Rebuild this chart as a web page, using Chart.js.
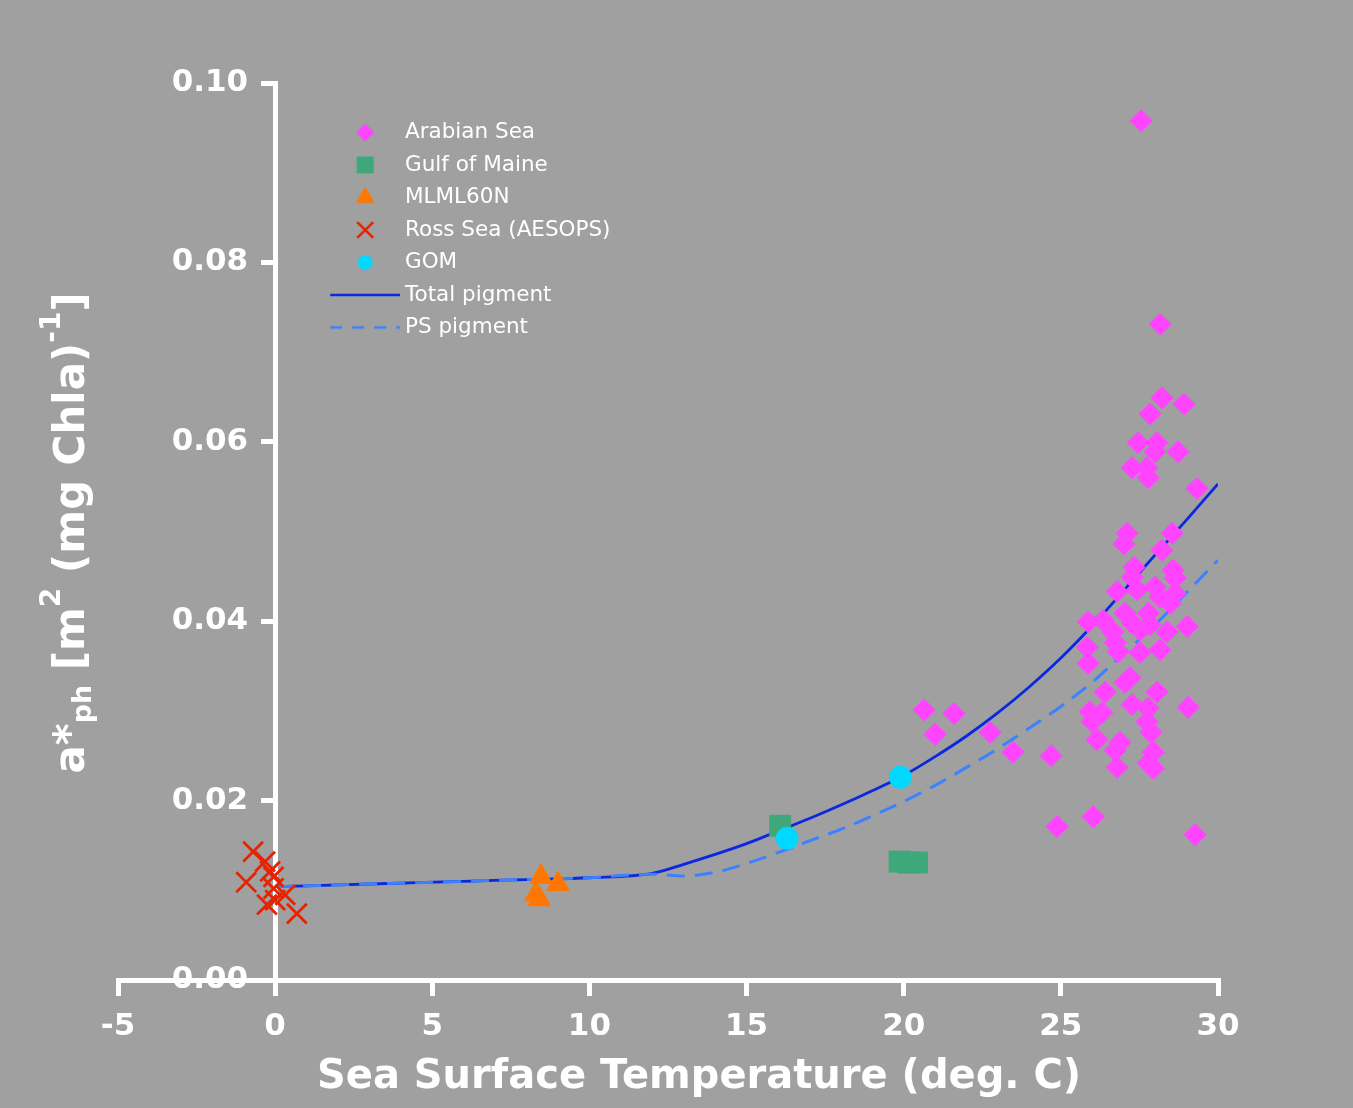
<!DOCTYPE html>
<html>
<head>
<meta charset="utf-8">
<script src="https://cdn.jsdelivr.net/npm/chart.js@4.4.1/dist/chart.umd.min.js"></script>
<style>
  html, body { margin: 0; padding: 0; background: #a0a0a0; }
  #wrap { width: 1353px; height: 1108px; }
</style>
</head>
<body>
<div id="wrap"><canvas id="chart" width="1353" height="1108"></canvas></div>
<script>
const FONT = "'DejaVu Sans', Verdana, sans-serif";

// tick labels
const xTicks = [-5, 0, 5, 10, 15, 20, 25, 30];
const yTicks = [0, 0.02, 0.04, 0.06, 0.08, 0.10];

// Arabian Sea (diamonds)
const arabianT = [27.55, 28.16, 28.22, 27.84, 28.92, 27.46, 28.06, 28.00, 28.73, 27.27, 27.74, 27.78, 29.33,
  27.11, 27.01, 28.54, 28.22, 27.33, 28.57, 28.64, 27.27, 26.79, 27.43, 28.00, 28.16, 28.64, 28.48,
  25.87, 26.34, 27.04, 27.27, 27.78, 27.84, 26.66, 27.52, 28.38, 29.02, 25.84, 25.87, 26.73, 26.82,
  27.52, 28.16, 27.20, 27.04, 26.41, 28.06, 25.93, 26.31, 25.99, 27.27, 27.78, 29.05, 27.74, 27.87,
  26.15, 26.89, 26.73, 27.94, 26.79, 27.78, 27.94, 26.03, 24.88, 29.27,
  20.65, 21.60, 21.00, 22.75, 23.48, 24.69];
const arabianA = [0.0958, 0.0731, 0.0649, 0.0631, 0.0642, 0.0599, 0.0599, 0.0589, 0.0589, 0.0571, 0.0571, 0.0560, 0.0548,
  0.0498, 0.0486, 0.0498, 0.0479, 0.0460, 0.0457, 0.0448, 0.0449, 0.0433, 0.0435, 0.0438, 0.0427, 0.0431, 0.0420,
  0.0399, 0.0401, 0.0409, 0.0398, 0.0409, 0.0396, 0.0388, 0.0390, 0.0388, 0.0394, 0.0371, 0.0353, 0.0376, 0.0366,
  0.0365, 0.0368, 0.0337, 0.0332, 0.0321, 0.0321, 0.0299, 0.0298, 0.0288, 0.0307, 0.0303, 0.0304, 0.0288, 0.0276,
  0.0268, 0.0265, 0.0256, 0.0254, 0.0237, 0.0242, 0.0236, 0.0182, 0.0171, 0.0162,
  0.0301, 0.0297, 0.0274, 0.0276, 0.0254, 0.0250];

// Gulf of Maine (squares)
const gulfT = [16.07, 19.87, 20.15, 20.42];
const gulfA = [0.0172, 0.0132, 0.0131, 0.0131];

// MLML60N (triangles)
const mlmlT = [8.46, 9.00, 8.30, 8.40];
const mlmlA = [0.0115, 0.0107, 0.0096, 0.0090];

// Ross Sea (AESOPS) (crosses)
const rossT = [-0.70, -0.92, -0.32, -0.05, -0.05, 0.32, -0.26, 0.00, 0.69, -0.16];
const rossA = [0.0143, 0.0109, 0.0132, 0.0115, 0.0102, 0.0095, 0.0084, 0.0089, 0.0074, 0.0121];

// GOM (circles)
const gomT = [16.29, 19.89];
const gomA = [0.0158, 0.0226];

// model curves
const curveT = [0, 2, 4, 6, 8, 10, 12, 13, 14, 15, 16, 17, 18, 19, 20, 21, 22, 23, 24, 25, 26, 27, 28, 29, 30];
const totalPigment = [0.0104, 0.0106, 0.0108, 0.0110, 0.0112, 0.0114, 0.0119, 0.0129, 0.0140, 0.0152, 0.0166, 0.0180,
  0.0195, 0.0211, 0.0228, 0.0249, 0.0272, 0.0298, 0.0327, 0.0359, 0.0395, 0.0434, 0.0474, 0.0513, 0.0553];
const psPigment = [0.0104, 0.0106, 0.0108, 0.0110, 0.0112, 0.0114, 0.0118, 0.0116, 0.0120, 0.0130, 0.0142, 0.0155,
  0.0168, 0.0183, 0.0199, 0.0217, 0.0237, 0.0258, 0.0281, 0.0305, 0.0332, 0.0364, 0.0396, 0.0432, 0.0468];

const xTitle = 'Sea Surface Temperature (deg. C)';
const yTitleParts = [
  { text: 'a*', size: 42, shift: 0 },
  { text: 'ph', size: 27, shift: 7 },
  { text: ' [m', size: 42, shift: 0 },
  { text: '2', size: 28, shift: -24 },
  { text: ' (mg Chla)', size: 42, shift: 0 },
  { text: '-1', size: 28, shift: -24 },
  { text: ']', size: 42, shift: 0 }
];

function pairs(xs, ys) {
  return xs.map((x, i) => ({ x: x, y: ys[i] }));
}

// legend symbols, drawn with Chart's own point helper onto small canvases
function makeSymbol(style, radius, color, lineDash) {
  const c = document.createElement('canvas');
  c.width = 76;
  c.height = 30;
  const g = c.getContext('2d');
  g.fillStyle = color;
  g.strokeStyle = color;
  if (style === 'line') {
    g.lineWidth = 2.5;
    g.setLineDash(lineDash || []);
    g.beginPath();
    g.moveTo(6, 15);
    g.lineTo(76, 15);
    g.stroke();
  } else {
    g.lineWidth = style === 'crossRot' ? 2.5 : 1;
    Chart.helpers.drawPoint(g, { pointStyle: style, radius: radius, rotation: 0, borderWidth: g.lineWidth }, 41, 15);
  }
  return c;
}

const legendSymbols = [
  makeSymbol('rectRot', 8.5, '#ff44ff'),
  makeSymbol('rect', 11.3, '#3ea87a'),
  makeSymbol('triangle', 10, '#ff7700'),
  makeSymbol('crossRot', 11.3, '#e62200'),
  makeSymbol('circle', 7, '#00d8ff'),
  makeSymbol('line', 0, '#0a28e0'),
  makeSymbol('line', 0, '#3c82ff', [12, 10])
];

const placeLegend = {
  id: 'placeLegend',
  afterLayout(chart) {
    const lg = chart.legend;
    lg.left = 319.25;
    lg.top = 110.75;
    lg.right = lg.left + 320;
    lg.bottom = lg.top + 400;
  }
};

const axisTitles = {
  id: 'axisTitles',
  afterDraw(chart) {
    const ctx = chart.ctx;
    ctx.save();
    ctx.fillStyle = '#ffffff';
    ctx.textBaseline = 'alphabetic';
    ctx.font = 'bold 40px ' + FONT;
    ctx.textAlign = 'center';
    ctx.fillText(xTitle, 699, 1088);

    ctx.textAlign = 'left';
    ctx.translate(84, 533);
    ctx.rotate(-Math.PI / 2);
    let total = 0;
    yTitleParts.forEach(p => {
      ctx.font = 'bold ' + p.size + 'px ' + FONT;
      p.w = ctx.measureText(p.text).width;
      total += p.w;
    });
    let x = -total / 2;
    yTitleParts.forEach(p => {
      ctx.font = 'bold ' + p.size + 'px ' + FONT;
      ctx.fillText(p.text, x, p.shift);
      x += p.w;
    });
    ctx.restore();
  }
};

const tickFont = { family: FONT, size: 31, weight: 'bold' };

new Chart(document.getElementById('chart'), {
  type: 'scatter',
  data: {
    datasets: [
      { label: 'Arabian Sea', data: pairs(arabianT, arabianA), order: 0,
        pointStyle: 'rectRot', pointRadius: 11, backgroundColor: '#ff44ff', borderColor: '#ff44ff', borderWidth: 1 },
      { label: 'Gulf of Maine', data: pairs(gulfT, gulfA), order: 2,
        pointStyle: 'rect', pointRadius: 14.8, backgroundColor: '#3ea87a', borderColor: '#3ea87a', borderWidth: 1 },
      { label: 'MLML60N', data: pairs(mlmlT, mlmlA), order: 3,
        pointStyle: 'triangle', pointRadius: 13, backgroundColor: '#ff7700', borderColor: '#ff7700', borderWidth: 1 },
      { label: 'Ross Sea (AESOPS)', data: pairs(rossT, rossA), order: 4,
        pointStyle: 'crossRot', pointRadius: 14, backgroundColor: '#e62200', borderColor: '#e62200', borderWidth: 2.8 },
      { label: 'GOM', data: pairs(gomT, gomA), order: 1,
        pointStyle: 'circle', pointRadius: 11, backgroundColor: '#00d8ff', borderColor: '#00d8ff', borderWidth: 1 },
      { label: 'Total pigment', data: pairs(curveT, totalPigment), order: 6, showLine: true,
        pointRadius: 0, borderColor: '#0a28e0', borderWidth: 2.8, cubicInterpolationMode: 'monotone' },
      { label: 'PS pigment', data: pairs(curveT, psPigment), order: 5, showLine: true,
        pointRadius: 0, borderColor: '#3c82ff', borderWidth: 3, borderDash: [18, 10], cubicInterpolationMode: 'monotone' }
    ]
  },
  options: {
    responsive: false,
    devicePixelRatio: 1,
    animation: false,
    events: [],
    layout: { padding: { left: 118, right: 135, top: 83, bottom: 128 } },
    scales: {
      x: {
        type: 'linear',
        min: -5,
        max: 30,
        position: { y: 0 },
        afterBuildTicks: s => { s.ticks = xTicks.map(v => ({ value: v })); },
        grid: { drawOnChartArea: false, drawTicks: true, tickLength: 13, color: '#ffffff', lineWidth: 5 },
        border: { display: true, color: '#ffffff', width: 5 },
        ticks: { color: '#ffffff', font: tickFont, padding: 15, maxRotation: 0 }
      },
      y: {
        type: 'linear',
        min: 0,
        max: 0.10,
        position: { x: 0 },
        afterBuildTicks: s => { s.ticks = yTicks.map(v => ({ value: v })); },
        grid: { drawOnChartArea: false, drawTicks: true, tickLength: 12, color: '#ffffff', lineWidth: 5 },
        border: { display: true, color: '#ffffff', width: 5 },
        ticks: { display: false }
      },
      // carries the y tick labels, set just left of the y axis tick marks
      yLabels: {
        type: 'linear',
        axis: 'y',
        min: 0,
        max: 0.10,
        position: { x: -0.86 },
        afterBuildTicks: s => { s.ticks = yTicks.map(v => ({ value: v })); },
        grid: { display: false },
        border: { display: false },
        ticks: { color: '#ffffff', font: tickFont, padding: 0, callback: v => v.toFixed(2) }
      }
    },
    plugins: {
      tooltip: { enabled: false },
      legend: {
        position: 'chartArea',
        align: 'start',
        labels: {
          usePointStyle: true,
          pointStyleWidth: 64,
          boxHeight: 13,
          padding: 11,
          color: '#ffffff',
          font: { family: FONT, size: 21.5 },
          sort: (a, b) => a.datasetIndex - b.datasetIndex,
          generateLabels: chart => Chart.defaults.plugins.legend.labels.generateLabels(chart).map(item => {
            item.pointStyle = legendSymbols[item.datasetIndex];
            return item;
          })
        }
      }
    }
  },
  plugins: [placeLegend, axisTitles]
});
</script>
</body>
</html>
